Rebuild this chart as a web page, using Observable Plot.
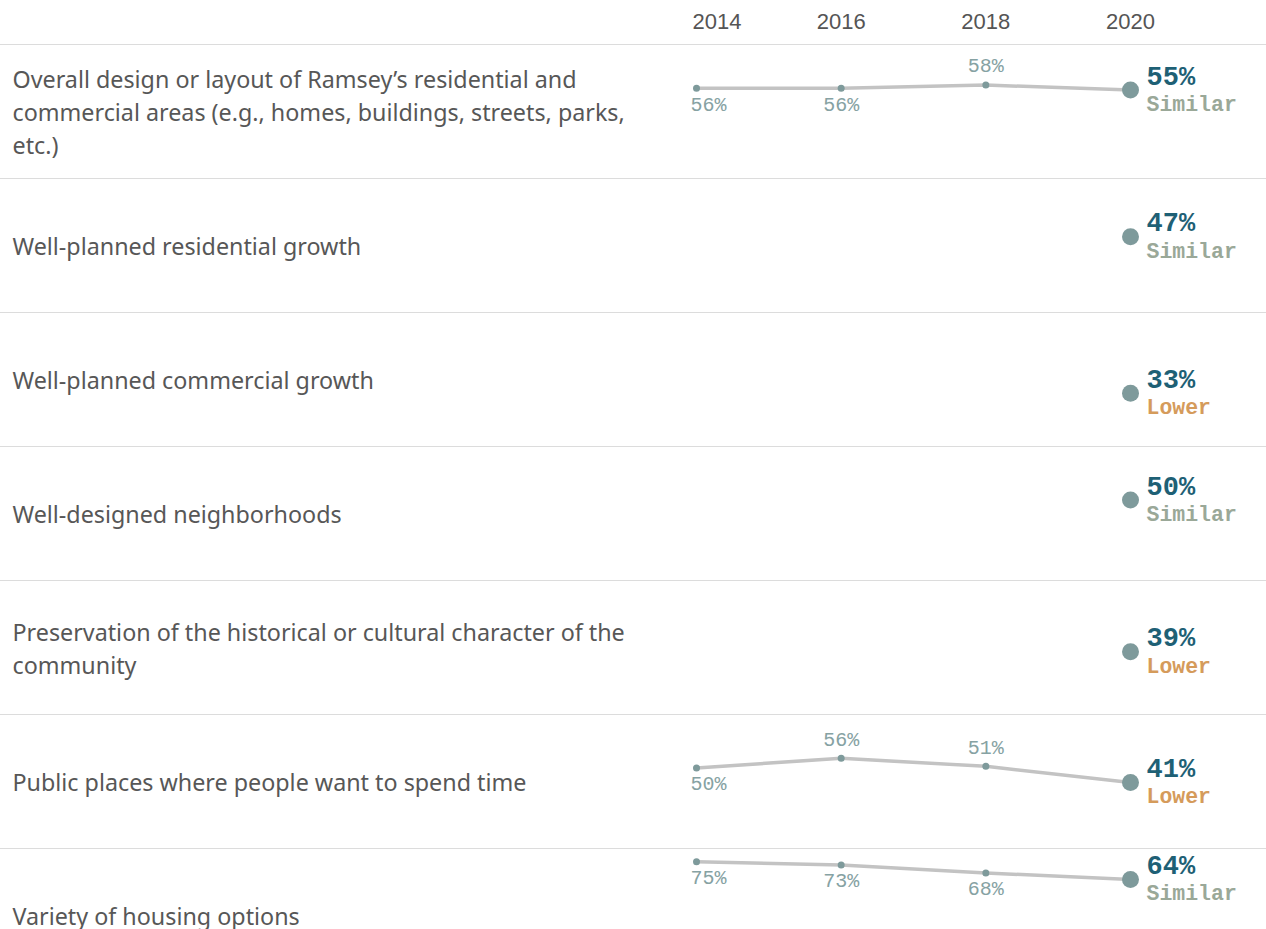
<!DOCTYPE html>
<html>
<head>
<meta charset="utf-8">
<script src="https://cdn.jsdelivr.net/npm/d3@7"></script>
<script src="https://cdn.jsdelivr.net/npm/@observablehq/plot@0.6"></script>
<style>
  html, body { margin: 0; padding: 0; background: #fff; overflow: hidden; }
  #chart { width: 1266px; height: 929px; overflow: hidden; }
</style>
</head>
<body>
<div id="chart"></div>
<script>
const categories = [
  "Overall design or layout of Ramsey’s residential and\ncommercial areas (e.g., homes, buildings, streets, parks,\netc.)",
  "Well-planned residential growth",
  "Well-planned commercial growth",
  "Well-designed neighborhoods",
  "Preservation of the historical or cultural character of the\ncommunity",
  "Public places where people want to spend time",
  "Variety of housing options"
];
const years = [2014, 2016, 2018, 2020];
const v2014 = [56, null, null, null, null, 50, 75];
const v2016 = [56, null, null, null, null, 56, 73];
const v2018 = [58, null, null, null, null, 51, 68];
const v2020 = [55, 47, 33, 50, 39, 41, 64];
const comparison = ["Similar", "Similar", "Lower", "Similar", "Lower", "Lower", "Similar"];

const compColor = {Similar: "#9aa898", Lower: "#d59b5b"};
const series = [v2014, v2016, v2018, v2020];

// tidy data
const points = [];
categories.forEach((c, i) => {
  const vals = series.map(s => s[i]);
  years.forEach((yr, j) => {
    const v = vals[j];
    if (v == null) return;
    const next = vals[j + 1];
    points.push({cat: c, year: yr, value: v, above: next != null && v > next && v < 65, first: j === 0, last: yr === 2020});
  });
});
const past = points.filter(d => !d.last);
const latest = categories.map((c, i) => ({cat: c, year: 2020, value: v2020[i], comp: comparison[i]}));
const rows = categories.map(c => ({cat: c}));

const monoFont = "'Liberation Mono', 'Courier New', monospace";
const dotColor = "#7e9a9b";
const smallLbl = {x: "year", y: "value", fy: "cat", text: d => d.value + "%", lineAnchor: "middle", fontSize: 20, fontFamily: monoFont, fill: "#86a2a3"};

const plot = Plot.plot({
  width: 1266,
  height: 44 + 7 * 134,
  marginTop: 44,
  marginBottom: 0,
  marginLeft: 0,
  marginRight: 0,
  x: {domain: [2014, 2020], range: [696, 1130], axis: null},
  y: {domain: [0, 83.2], axis: null},
  fy: {domain: categories, axis: null, padding: 0},
  style: {fontFamily: "'Noto Sans', sans-serif", background: "#fff"},
  marks: [
    Plot.frame({anchor: "top", stroke: "#dcdcdc", strokeWidth: 1.2}),
    // header years
    Plot.axisX([2016, 2018, 2020], {anchor: "top", tickSize: 0, tickPadding: 16, fontSize: 22, fill: "#555", tickFormat: d => String(d), fontFamily: "'Liberation Sans', Arial, sans-serif", label: null}),
    Plot.axisX([2014], {anchor: "top", tickSize: 0, tickPadding: 16, fontSize: 22, fill: "#555", textAnchor: "start", dx: -4, tickFormat: d => String(d), fontFamily: "'Liberation Sans', Arial, sans-serif", label: null}),
    // category labels
    Plot.text(rows, {fy: "cat", text: "cat", frameAnchor: "left", dx: 12, dy: -1, textAnchor: "start", lineAnchor: "middle", fontSize: 23.3, lineHeight: 1.415, fill: "#575757", fontFamily: "'Noto Sans', sans-serif"}),
    // lines
    Plot.line(points, {x: "year", y: "value", fy: "cat", stroke: "#c3c3c3", strokeWidth: 3.5}),
    Plot.dot(past, {x: "year", y: "value", fy: "cat", r: 3.5, fill: dotColor}),
    Plot.dot(latest, {x: "year", y: "value", fy: "cat", r: 8.5, fill: dotColor}),
    // past labels
    Plot.text(past.filter(d => d.above && !d.first), {...smallLbl, dy: -19}),
    Plot.text(past.filter(d => !d.above && !d.first), {...smallLbl, dy: 16}),
    Plot.text(past.filter(d => d.above && d.first), {...smallLbl, dx: -6, dy: -19, textAnchor: "start"}),
    Plot.text(past.filter(d => !d.above && d.first), {...smallLbl, dx: -6, dy: 16, textAnchor: "start"}),
    // latest labels
    Plot.text(latest, {x: "year", y: "value", fy: "cat", text: d => d.value + "%", dx: 16, dy: -14, textAnchor: "start", lineAnchor: "middle", fontSize: 27, fontWeight: "bold", fontFamily: monoFont, fill: "#1e6075"}),
    Plot.text(latest, {x: "year", y: "value", fy: "cat", text: "comp", dx: 16, dy: 14, textAnchor: "start", lineAnchor: "middle", fontSize: 21.5, fontWeight: "bold", fontFamily: monoFont, fill: d => compColor[d.comp]})
  ]
});
document.getElementById("chart").appendChild(plot);
</script>
</body>
</html>
